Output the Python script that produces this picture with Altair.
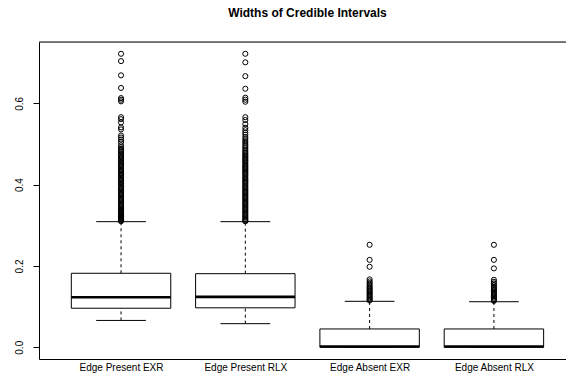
import json
import altair as alt
import pandas as pd

categories = ["Edge Present EXR", "Edge Present RLX", "Edge Absent EXR", "Edge Absent RLX"]
positions = [1, 2, 3, 4]
whisker_low = [0.066, 0.058, 0.0, 0.0]
q1 = [0.096, 0.097, 0.0, 0.0]
median = [0.123, 0.124, 0.002, 0.002]
q3 = [0.182, 0.181, 0.045, 0.045]
whisker_high = [0.309, 0.309, 0.113, 0.112]

outliers_present_exr = [
    0.722, 0.704, 0.669, 0.638, 0.613, 0.609, 0.605, 0.566, 0.561, 0.553,
    0.541, 0.536, 0.521, 0.516, 0.511, 0.505, 0.497, 0.492, 0.488, 0.484,
    0.481, 0.477, 0.474, 0.471, 0.468, 0.465, 0.462, 0.459, 0.455, 0.452,
    0.449, 0.446, 0.443, 0.439, 0.436, 0.433, 0.430, 0.427, 0.424, 0.421,
    0.417, 0.414, 0.411, 0.408, 0.405, 0.402, 0.398, 0.395, 0.392, 0.389,
    0.386, 0.383, 0.380, 0.377, 0.374, 0.371, 0.368, 0.365, 0.362, 0.359,
    0.356, 0.353, 0.350, 0.347, 0.344, 0.341, 0.338, 0.336, 0.333, 0.331,
    0.328, 0.326, 0.324, 0.322, 0.320, 0.318, 0.316, 0.314, 0.312, 0.310,
]
outliers_present_rlx = [
    0.722, 0.701, 0.667, 0.636, 0.614, 0.609, 0.604, 0.566, 0.559, 0.549,
    0.540, 0.534, 0.528, 0.523, 0.517, 0.512, 0.507, 0.503, 0.498, 0.494,
    0.490, 0.486, 0.482, 0.479, 0.475, 0.472, 0.469, 0.466, 0.463, 0.460,
    0.457, 0.454, 0.450, 0.447, 0.444, 0.441, 0.438, 0.435, 0.432, 0.429,
    0.426, 0.423, 0.419, 0.416, 0.413, 0.410, 0.407, 0.404, 0.401, 0.397,
    0.394, 0.391, 0.388, 0.385, 0.382, 0.379, 0.376, 0.373, 0.370, 0.367,
    0.364, 0.361, 0.358, 0.355, 0.352, 0.349, 0.346, 0.343, 0.340, 0.337,
    0.334, 0.331, 0.328, 0.325, 0.322, 0.319, 0.316, 0.313, 0.311, 0.310,
]
outliers_absent_exr = [
    0.252, 0.215, 0.198, 0.167, 0.162, 0.158, 0.154, 0.150, 0.147, 0.144,
    0.141, 0.138, 0.135, 0.132, 0.129, 0.126, 0.123, 0.120, 0.117, 0.115,
]
outliers_absent_rlx = [
    0.252, 0.215, 0.194, 0.166, 0.161, 0.157, 0.153, 0.149, 0.146, 0.143,
    0.140, 0.137, 0.134, 0.131, 0.128, 0.125, 0.122, 0.119, 0.116, 0.114,
]

stats = pd.DataFrame({
    "cat": categories, "pos": positions, "lo": whisker_low, "q1": q1,
    "med": median, "q3": q3, "hi": whisker_high,
})
outlier_lists = [outliers_present_exr, outliers_present_rlx,
                 outliers_absent_exr, outliers_absent_rlx]
rows = []
for p, vals in zip(positions, outlier_lists):
    for v in vals:
        rows.append({"pos": p, "value": v})
outliers = pd.DataFrame(rows)

FONT = "Liberation Sans"
W, H = 527, 317

xscale = alt.Scale(domain=[0.34, 4.58], nice=False, zero=False)
yscale = alt.Scale(domain=[-0.0289, 0.751], nice=False, zero=False)

label_expr = json.dumps(categories) + "[datum.value - 1]"
xaxis = alt.Axis(values=positions, labelExpr=label_expr, title=None, grid=False,
                 ticks=False, tickSize=0, labelPadding=3, labelFont=FONT,
                 labelFontSize=10, labelColor="black", domainColor="black",
                 domainWidth=1, labelAngle=0)
yaxis = alt.Axis(values=[0, 0.2, 0.4, 0.6], format=".1f", title=None, grid=False,
                 tickSize=6, tickColor="black", labelAngle=270, labelAlign="center",
                 labelBaseline="bottom", labelPadding=9, labelFont=FONT,
                 labelFontSize=10, labelColor="black", domainColor="black",
                 domainWidth=1)

base = alt.Chart(stats).transform_calculate(
    left="datum.pos - 0.4", right="datum.pos + 0.4",
    capl="datum.pos - 0.2", capr="datum.pos + 0.2",
)

whisk_up = base.mark_rule(color="black", strokeWidth=1, strokeDash=[3, 3]).encode(
    x=alt.X("pos:Q", scale=xscale, axis=xaxis),
    y=alt.Y("q3:Q", scale=yscale, axis=yaxis),
    y2="hi:Q",
)
whisk_dn = base.mark_rule(color="black", strokeWidth=1, strokeDash=[3, 3]).encode(
    x=alt.X("pos:Q", scale=xscale),
    y=alt.Y("lo:Q", scale=yscale),
    y2="q1:Q",
)
cap_hi = base.mark_rule(color="black", strokeWidth=1).encode(
    x=alt.X("capl:Q", scale=xscale), x2="capr:Q",
    y=alt.Y("hi:Q", scale=yscale),
)
cap_lo = base.mark_rule(color="black", strokeWidth=1).encode(
    x=alt.X("capl:Q", scale=xscale), x2="capr:Q",
    y=alt.Y("lo:Q", scale=yscale),
)
box = base.mark_rect(fill="white", stroke="black", strokeWidth=1).encode(
    x=alt.X("left:Q", scale=xscale), x2="right:Q",
    y=alt.Y("q1:Q", scale=yscale), y2="q3:Q",
)
med = base.mark_rule(color="black", strokeWidth=2.6).encode(
    x=alt.X("left:Q", scale=xscale), x2="right:Q",
    y=alt.Y("med:Q", scale=yscale),
)
pts = alt.Chart(outliers).mark_point(
    shape="circle", filled=False, color="black", size=26, strokeWidth=1, opacity=1
).encode(
    x=alt.X("pos:Q", scale=xscale),
    y=alt.Y("value:Q", scale=yscale),
)
top_border = alt.Chart(pd.DataFrame({"a": [0]})).mark_rule(
    color="black", strokeWidth=1
).encode(x=alt.value(0), x2=alt.value(W), y=alt.value(0))

chart = alt.layer(
    whisk_up, whisk_dn, cap_hi, cap_lo, box, med, pts, top_border
).properties(
    width=W, height=H,
    title=alt.TitleParams("Widths of Credible Intervals", font=FONT, fontSize=12,
                          fontWeight="bold", anchor="middle", dx=5, offset=22,
                          color="black"),
    autosize=alt.AutoSizeParams(type="none"),
    padding={"left": 39, "top": 42, "right": 0, "bottom": 18},
).configure_view(stroke=None).configure(background="white")

chart.save("out.html", embed_options={"renderer": "svg", "actions": False})
